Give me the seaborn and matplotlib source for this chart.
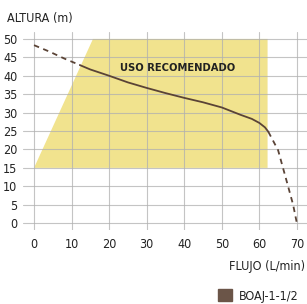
import matplotlib
matplotlib.use("Agg")
import pandas as pd
import seaborn as sns
from matplotlib import pyplot as plt
from matplotlib.patches import Patch

# datos de la curva
flujo_ini = [0, 4, 8, 12.2]
altura_ini = [48.3, 46.6, 44.7, 42.9]
flujo = [12.2, 15, 20, 25, 30, 35, 40, 45, 50, 55, 58, 60, 61.5, 62.4]
altura = [42.9, 41.7, 40.0, 38.2, 36.7, 35.3, 34.0, 32.8, 31.4, 29.4, 28.3, 27.2, 26.0, 24.8]
flujo_fin = [62.4, 65, 67.2, 69, 70]
altura_fin = [24.8, 19.8, 11.7, 5.0, 0]

# zona de uso recomendado
zona_x = [0, 15.7, 62.2, 62.2]
zona_y = [15, 50, 50, 15]

xticks = [0, 10, 20, 30, 40, 50, 60, 70]
yticks = [0, 5, 10, 15, 20, 25, 30, 35, 40, 45, 50]

color_curva = "#5a4336"
color_zona = "#f1e38e"

sns.set_style("white")
plt.rcParams["font.family"] = ["DejaVu Sans"]
plt.rcParams["font.stretch"] = "condensed"

fig = plt.figure(figsize=(3.07, 3.04), dpi=100)
ax = fig.add_axes([0.075, 0.243, 0.925, 0.652])

ax.fill(zona_x, zona_y, color=color_zona, zorder=0, linewidth=0)

ini = pd.DataFrame({"x": flujo_ini, "y": altura_ini})
med = pd.DataFrame({"x": flujo, "y": altura})
fin = pd.DataFrame({"x": flujo_fin, "y": altura_fin})
sns.lineplot(data=ini, x="x", y="y", ax=ax, color=color_curva, lw=1.3, linestyle=(0, (3, 2.5)), zorder=3)
sns.lineplot(data=med, x="x", y="y", ax=ax, color=color_curva, lw=1.3, zorder=3)
sns.lineplot(data=fin, x="x", y="y", ax=ax, color=color_curva, lw=1.3, linestyle=(0, (3, 2.5)), zorder=3)

ax.text(38.3, 42.2, "USO RECOMENDADO", ha="center", va="center", fontsize=8,
        fontweight="bold", color="#222222", zorder=4)

ax.set_xlim(-2.93, 72.7)
ax.set_ylim(-1.9, 51.9)
ax.set_xticks(xticks)
ax.set_yticks(yticks)
ax.grid(True, color="#b0b0b0", lw=0.8, alpha=0.75, zorder=1)
ax.set_axisbelow(False)
for s in ax.spines.values():
    s.set_visible(False)
ax.tick_params(length=0, labelsize=9, colors="#222222", pad=6)
ax.tick_params(axis="y", pad=4)
ax.set_xlabel("")
ax.set_ylabel("")

fig.text(0.022, 0.94, "ALTURA (m)", fontsize=9, color="#222222", va="center")
fig.text(0.995, 0.122, "FLUJO (L/min)", fontsize=9, color="#222222", va="center", ha="right")

fig.legend(handles=[Patch(color="#6b5548", label="BOAJ-1-1/2")], loc="center right",
           bbox_to_anchor=(1.01, 0.026), frameon=False, fontsize=9, handlelength=1.1,
           handleheight=1.1, handletextpad=0.6, labelcolor="#222222")

plt.savefig("out.png", dpi=100)
